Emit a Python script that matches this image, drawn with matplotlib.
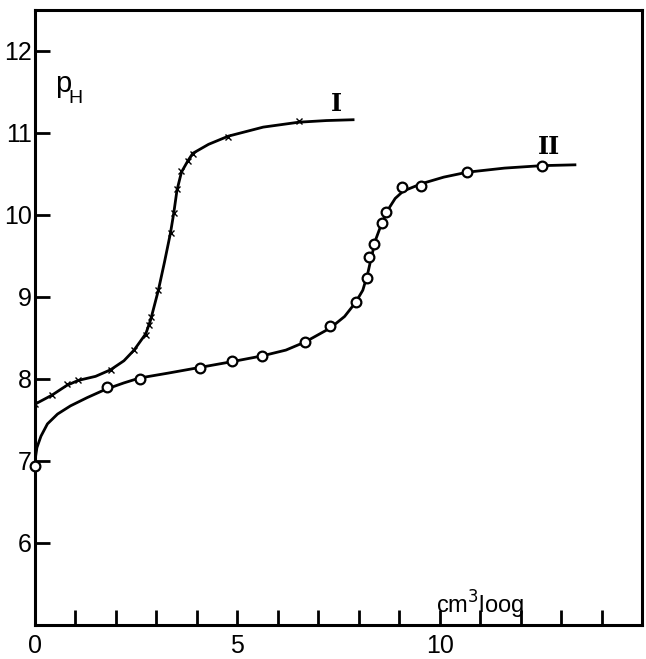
## pH titration curves I and II (scanned figure redraw)
import matplotlib
matplotlib.use('Agg')
import matplotlib.pyplot as plt

# curve I: measured points (x markers)
x_I = [0.0, 0.42, 0.79, 1.07, 1.87, 2.45, 2.74, 2.82, 2.86, 3.05, 3.35, 3.43, 3.51, 3.62, 3.78, 3.90, 4.78, 6.52]
ph_I = [7.69, 7.80, 7.94, 7.98, 8.11, 8.35, 8.53, 8.66, 8.75, 9.08, 9.78, 10.02, 10.32, 10.53, 10.66, 10.74, 10.95, 11.14]

# curve I: drawn line
line_x_I = [0.0, 0.42, 0.79, 1.07, 1.5, 1.87, 2.2, 2.45, 2.74, 2.86, 3.05, 3.2, 3.35, 3.43, 3.51, 3.62, 3.78, 3.90,
            4.29, 4.78, 5.64, 6.52, 7.2, 7.86]
line_ph_I = [7.69, 7.80, 7.92, 7.98, 8.03, 8.11, 8.22, 8.35, 8.55, 8.72, 9.08, 9.42, 9.78, 10.02, 10.30, 10.52, 10.66, 10.75,
             10.86, 10.96, 11.07, 11.13, 11.15, 11.16]

# curve II: measured points (open circles)
x_II = [0.0, 1.77, 2.59, 4.09, 4.88, 5.62, 6.68, 7.30, 7.92, 8.21, 8.26, 8.37, 8.57, 8.67, 9.08, 9.55, 10.68, 12.52]
ph_II = [6.94, 7.90, 8.00, 8.13, 8.22, 8.28, 8.45, 8.65, 8.94, 9.23, 9.48, 9.64, 9.90, 10.04, 10.34, 10.35, 10.52, 10.60]

# curve II: drawn line
line_x_II = [0.0, 0.02, 0.05, 0.15, 0.31, 0.56, 0.88, 1.29, 1.74, 2.2, 2.59, 3.3, 4.09, 4.88, 5.62, 6.2, 6.68, 7.30,
             7.65, 7.92, 8.1, 8.22, 8.32, 8.42, 8.57, 8.72, 8.9, 9.1, 9.55, 10.1, 10.68, 11.6, 12.52, 13.34]
line_ph_II = [6.96, 7.06, 7.16, 7.30, 7.45, 7.57, 7.67, 7.77, 7.87, 7.95, 8.01, 8.07, 8.14, 8.21, 8.28, 8.35, 8.45, 8.62,
              8.76, 8.93, 9.08, 9.28, 9.50, 9.70, 9.90, 10.06, 10.20, 10.29, 10.38, 10.46, 10.52, 10.57, 10.60, 10.61]

x_ticks = list(range(0, 15))
x_tick_labels = ['0', '', '', '', '', '5', '', '', '', '', '10', '', '', '', '']
y_ticks = [6, 7, 8, 9, 10, 11, 12]

plt.rcParams['font.family'] = ['Liberation Sans', 'DejaVu Sans']

fig = plt.figure(figsize=(6.46, 6.59), dpi=100)
ax = fig.add_axes([0.054, 0.052, 0.940, 0.933])

# lines first, markers on top
ax.plot(line_x_I, line_ph_I, color='black', lw=2.0, zorder=2)
ax.plot(x_I, ph_I, linestyle='none', marker='x', ms=5, mew=1.0, color='black', zorder=3)

ax.plot(line_x_II, line_ph_II, color='black', lw=2.0, zorder=2)
ax.plot(x_II, ph_II, linestyle='none', marker='o', ms=7, mew=1.6, mfc='white', mec='black', zorder=3, clip_on=False)

ax.set_xlim(0, 15)
ax.set_ylim(5, 12.5)

ax.set_xticks(x_ticks)
ax.set_xticklabels(x_tick_labels)
ax.set_yticks(y_ticks)
ax.tick_params(direction='in', length=11, width=2.0, labelsize=18)
ax.tick_params(axis='x', pad=7)
ax.tick_params(axis='y', pad=2)

for s in ax.spines.values():
    s.set_linewidth(2.2)

# labels inside the plot
ax.text(0.5, 11.5, 'p', fontsize=21, ha='left', va='baseline')
ax.text(0.83, 11.36, 'H', fontsize=14, ha='left', va='baseline')
ax.text(9.9, 5.13, 'cm$^{3}$loog', fontsize=17, ha='left', va='baseline')
ax.text(7.45, 11.27, 'I', fontsize=17, family='DejaVu Serif', fontweight='bold', ha='center', va='baseline')
ax.text(12.71, 10.74, 'II', fontsize=17, family='DejaVu Serif', fontweight='bold', ha='center', va='baseline')

fig.savefig('out.png', dpi=100)
